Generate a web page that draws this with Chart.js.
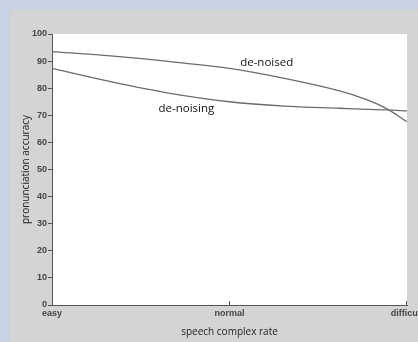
<!DOCTYPE html>
<html>
<head>
<meta charset="utf-8">
<script src="https://cdn.jsdelivr.net/npm/chart.js@4.4.1/dist/chart.umd.min.js"></script>
<style>
  html, body { margin: 0; padding: 0; background: #c9d2e3; }
  body { width: 418px; height: 342px; position: relative; overflow: hidden; }
  #panel { position: absolute; left: 10px; top: 10px; width: 408px; height: 332px; background: #d4d4d4; }
</style>
</head>
<body>
<div id="panel"><canvas id="chart" width="408" height="332"></canvas></div>
<script>
// x positions: 0 = easy, 1 = normal, 2 = difficult
const tickLabels = ['easy', 'normal', 'difficult'];
const xPos = [0, 0.33, 0.665, 1.0, 1.31, 1.62, 1.78, 1.89, 2.0];
const deNoised = [93.5, 91.9, 89.8, 87.3, 83.6, 79.0, 75.6, 72.3, 67.6];
const deNoising = [87.3, 82.4, 78.1, 75.0, 73.4, 72.6, 72.2, 72.0, 71.6];
const curveLabels = [
    { text: 'de-noised', x: 1.06, y: 89.5 },
    { text: 'de-noising', x: 0.6, y: 72.3 }
];

const toPoints = (vals) => vals.map((v, i) => ({ x: xPos[i], y: v }));

const decorPlugin = {
    id: 'decor',
    beforeDraw(chart) {
        const { ctx, chartArea: a } = chart;
        ctx.save();
        ctx.fillStyle = '#ffffff';
        ctx.fillRect(a.left, a.top, a.right - a.left, a.bottom - a.top);
        ctx.restore();
    },
    afterDraw(chart) {
        const { ctx, chartArea: a, scales } = chart;
        ctx.save();
        // inward ticks on x axis
        ctx.strokeStyle = '#555';
        ctx.lineWidth = 1;
        [1, 2].forEach(v => {
            const px = Math.round(scales.x.getPixelForValue(v)) - 0.5;
            ctx.beginPath();
            ctx.moveTo(px, a.bottom);
            ctx.lineTo(px, a.bottom - 4);
            ctx.stroke();
        });
        ctx.fillStyle = '#111';
        ctx.font = '11.5px "Open Sans", sans-serif';
        ctx.textBaseline = 'middle';
        curveLabels.forEach(l => {
            ctx.fillText(l.text, scales.x.getPixelForValue(l.x), scales.y.getPixelForValue(l.y));
        });
        ctx.restore();
    }
};

new Chart(document.getElementById('chart'), {
    type: 'line',
    data: {
        datasets: [
            { label: 'de-noised', data: toPoints(deNoised), borderColor: '#6b6b6b', borderWidth: 1.3, pointRadius: 0, tension: 0.3 },
            { label: 'de-noising', data: toPoints(deNoising), borderColor: '#6b6b6b', borderWidth: 1.3, pointRadius: 0, tension: 0.3 }
        ]
    },
    options: {
        responsive: false,
        animation: false,
        layout: { padding: { top: 24, right: 11, left: 10, bottom: 0 } },
        plugins: { legend: { display: false }, tooltip: { enabled: false } },
        scales: {
            x: {
                type: 'linear', min: 0, max: 2,
                afterFit: (s) => { s.height = 37; s.paddingLeft = 0; s.paddingRight = 0; },
                border: { display: true, color: '#555', width: 1 },
                grid: { display: false, drawTicks: false },
                ticks: {
                    stepSize: 1, maxRotation: 0, padding: 3, color: '#444',
                    font: { family: 'Arial, "Liberation Sans", sans-serif', size: 9, weight: 'bold' },
                    callback: (v) => tickLabels[v]
                },
                title: {
                    display: true, text: 'speech complex rate', color: '#222',
                    font: { family: '"Open Sans", sans-serif', size: 10 }, padding: { top: 4, bottom: 4 }
                }
            },
            y: {
                min: 0, max: 100,
                afterFit: (s) => { s.width = 32; },
                border: { display: true, color: '#555', width: 1 },
                grid: { drawOnChartArea: false, drawTicks: true, tickLength: 4, color: '#555' },
                ticks: {
                    stepSize: 10, padding: 1, color: '#444',
                    font: { family: 'Arial, "Liberation Sans", sans-serif', size: 9, weight: 'bold' }
                },
                title: {
                    display: true, text: 'pronunciation accuracy', color: '#222',
                    font: { family: '"Open Sans", sans-serif', size: 10 }, padding: { top: 0, bottom: 2 }
                }
            }
        }
    },
    plugins: [decorPlugin]
});
</script>
</body>
</html>
